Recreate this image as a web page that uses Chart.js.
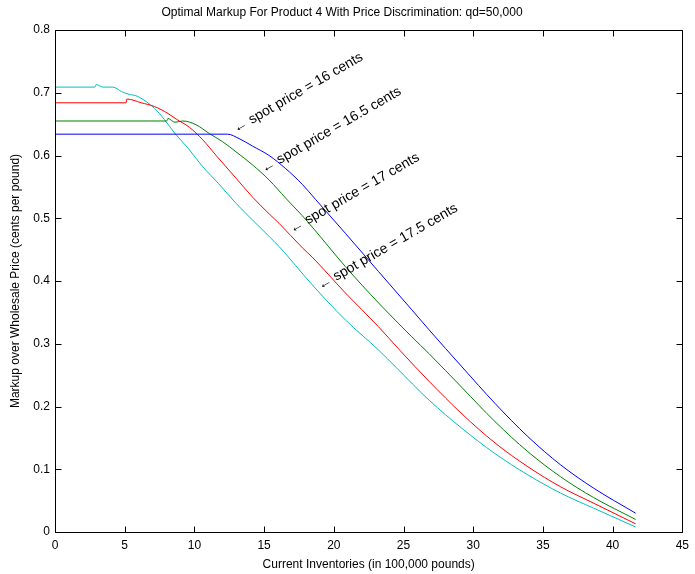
<!DOCTYPE html>
<html>
<head>
<meta charset="utf-8">
<script src="https://cdn.jsdelivr.net/npm/chart.js@4.4.0/dist/chart.umd.min.js"></script>
<style>
  html, body { margin: 0; padding: 0; background: #fff; }
</style>
</head>
<body>
<canvas id="chart" width="695" height="574"></canvas>
<script>
// values (x in 100,000 lb, y in cents per pound)
const spot16X = [0, 12.38, 13.2, 14.17, 15.36, 16.55, 17.74, 18.69, 20.83, 23.21, 25.6, 26.84, 29.2, 31.56, 33.92, 36.27, 38.63, 41.65];
const spot16Y = [0.634, 0.634, 0.627, 0.615, 0.600, 0.579, 0.554, 0.530, 0.476, 0.415, 0.354, 0.322, 0.263, 0.205, 0.152, 0.107, 0.070, 0.030];

const spot165X = [0, 8.0, 8.1, 8.6, 9.17, 10.12, 11.07, 12.02, 12.98, 14.17, 15.36, 16.55, 17.74, 18.45, 20.83, 23.21, 25.6, 26.84, 29.2, 31.56, 33.92, 36.27, 38.63, 41.65];
const spot165Y = [0.655, 0.655, 0.659, 0.653, 0.655, 0.649, 0.635, 0.622, 0.606, 0.585, 0.561, 0.532, 0.504, 0.486, 0.423, 0.365, 0.311, 0.284, 0.230, 0.176, 0.128, 0.088, 0.055, 0.020];

const spot17X = [0, 5.1, 5.15, 6.19, 7.14, 8.1, 8.7, 9.64, 10.6, 11.6, 12.98, 14.2, 15.36, 16.07, 17.74, 18.45, 20.83, 23.21, 24.76, 26.84, 29.2, 31.56, 33.92, 36.27, 38.63, 41.65];
const spot17Y = [0.684, 0.684, 0.690, 0.684, 0.678, 0.667, 0.658, 0.645, 0.625, 0.599, 0.564, 0.533, 0.507, 0.492, 0.453, 0.438, 0.381, 0.327, 0.289, 0.240, 0.188, 0.142, 0.104, 0.072, 0.046, 0.013];

const spot175X = [0, 2.85, 2.95, 3.45, 4.15, 4.76, 5.24, 5.95, 7.14, 7.86, 8.57, 9.57, 10.6, 11.7, 12.98, 15.36, 16.07, 18.45, 20.83, 23.21, 24.48, 26.84, 29.2, 31.56, 33.92, 36.27, 38.63, 41.65];
const spot175Y = [0.709, 0.709, 0.713, 0.709, 0.709, 0.702, 0.698, 0.694, 0.675, 0.657, 0.636, 0.611, 0.582, 0.556, 0.524, 0.471, 0.455, 0.394, 0.338, 0.290, 0.262, 0.210, 0.165, 0.125, 0.091, 0.062, 0.038, 0.008];

// text notes, anchored at the arrow tip (data units)
const noteText = ["\u2190 spot price = 16 cents", "\u2190 spot price = 16.5 cents", "\u2190 spot price = 17 cents", "\u2190 spot price = 17.5 cents"];
const noteX = [12.86, 14.88, 16.9, 18.93];
const noteY = [0.641, 0.577, 0.481, 0.391];

const FONT = "'Liberation Sans', Arial, Helvetica, sans-serif";

function series(xs, ys) {
  return xs.map((x, i) => ({ x: x, y: ys[i] }));
}

function line(data, color) {
  return {
    data: data,
    borderColor: color,
    borderWidth: 1,
    pointRadius: 0,
    fill: false,
    cubicInterpolationMode: "monotone",
  };
}

// MATLAB-like box with inward ticks, plus the rotated notes
const matlabAxes = {
  id: "matlabAxes",
  afterDraw(chart) {
    const { ctx, chartArea: a, scales } = chart;
    const x = scales.x;
    const y = scales.y;
    const L = Math.round(a.left) + 0.5;
    const R = Math.round(a.right) + 0.5;
    const T = Math.round(a.top) + 0.5;
    const B = Math.round(a.bottom) + 0.5;
    ctx.save();
    ctx.strokeStyle = "#000";
    ctx.lineWidth = 1;
    ctx.beginPath();
    ctx.moveTo(L, T); ctx.lineTo(R, T); ctx.lineTo(R, B); ctx.lineTo(L, B); ctx.closePath();
    x.ticks.forEach((t) => {
      const px = Math.round(x.getPixelForValue(t.value)) + 0.5;
      ctx.moveTo(px, B); ctx.lineTo(px, B - 6);
      ctx.moveTo(px, T); ctx.lineTo(px, T + 6);
    });
    y.ticks.forEach((t) => {
      const py = Math.round(y.getPixelForValue(t.value)) + 0.5;
      ctx.moveTo(L, py); ctx.lineTo(L + 6, py);
      ctx.moveTo(R, py); ctx.lineTo(R - 6, py);
    });
    ctx.stroke();

    ctx.fillStyle = "#000";
    ctx.font = "14px " + FONT;
    ctx.textAlign = "left";
    ctx.textBaseline = "middle";
    noteText.forEach((s, i) => {
      ctx.save();
      ctx.translate(x.getPixelForValue(noteX[i]), y.getPixelForValue(noteY[i]));
      ctx.rotate(-Math.PI / 6);
      ctx.fillText(s, 0, 0);
      ctx.restore();
    });
    ctx.restore();
  },
};

const cfg = {
  type: "line",
  data: {
    datasets: [
      line(series(spot16X, spot16Y), "#0000ff"),
      line(series(spot165X, spot165Y), "#008000"),
      line(series(spot17X, spot17Y), "#ff0000"),
      line(series(spot175X, spot175Y), "#00bfbf"),
    ],
  },
  options: {
    responsive: false,
    animation: false,
    layout: { padding: { right: 11 } },
    plugins: {
      legend: { display: false },
      tooltip: { enabled: false },
      title: {
        display: true,
        text: "Optimal Markup For Product 4 With Price Discrimination: qd=50,000",
        color: "#000",
        font: { family: FONT, size: 12, weight: "normal" },
        padding: { top: 5, bottom: 10.6 },
      },
    },
    scales: {
      x: {
        type: "linear",
        min: 0,
        max: 45,
        grid: { display: false, drawTicks: false },
        border: { display: false },
        ticks: { stepSize: 5, color: "#000", padding: 6, font: { family: FONT, size: 12 }, maxRotation: 0 },
        title: {
          display: true,
          text: "Current Inventories (in 100,000 pounds)",
          color: "#000",
          font: { family: FONT, size: 12 },
          padding: { top: 2, bottom: 2 },
        },
        afterFit(scale) { scale.height = 42; },
      },
      y: {
        min: 0,
        max: 0.8,
        grid: { display: false, drawTicks: false },
        border: { display: false },
        ticks: { stepSize: 0.1, color: "#000", padding: 5, font: { family: FONT, size: 12 } },
        title: {
          display: true,
          text: "Markup over Wholesale Price (cents per pound)",
          color: "#000",
          font: { family: FONT, size: 12 },
          padding: { top: 8, bottom: 8 },
        },
        afterFit(scale) { scale.width = 55; },
      },
    },
  },
  plugins: [matlabAxes],
};

new Chart(document.getElementById("chart").getContext("2d"), cfg);
</script>
</body>
</html>
